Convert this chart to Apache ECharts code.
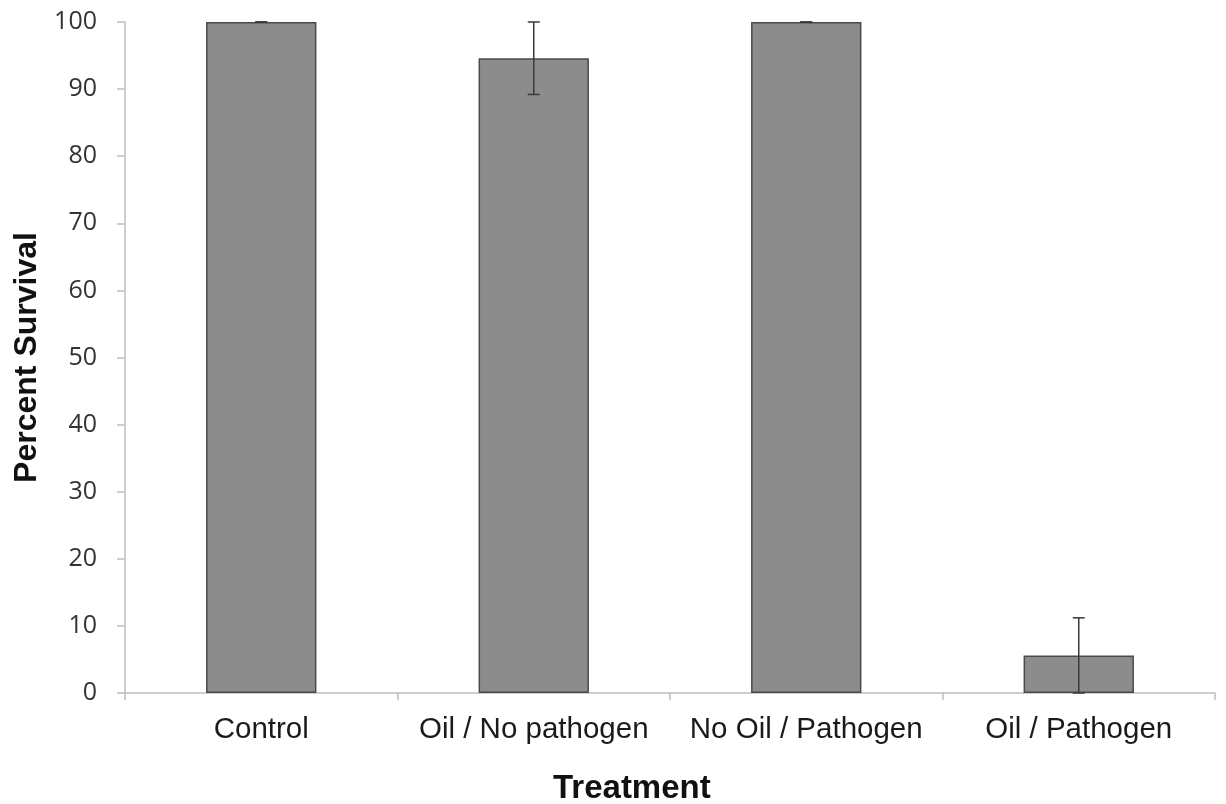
<!DOCTYPE html>
<html>
<head>
<meta charset="utf-8">
<script src="https://cdn.jsdelivr.net/npm/echarts@6/dist/echarts.min.js"></script>
<style>
html,body{margin:0;padding:0;background:#fff;}
#c{width:1226px;height:804px;}
</style>
</head>
<body>
<div id="c"></div>
<script>
const categories = ['Control', 'Oil / No pathogen', 'No Oil / Pathogen', 'Oil / Pathogen'];
const survival = [100, 94.6, 100, 5.6];
const errors = [0, 5.4, 0, 5.6];
const yTicks = [0, 10, 20, 30, 40, 50, 60, 70, 80, 90, 100];

const chart = echarts.init(document.getElementById('c'), null, {renderer: 'canvas'});
const errData = categories.map((c, i) => [i, survival[i] - errors[i], survival[i] + errors[i]]);

chart.setOption({
  animation: false,
  backgroundColor: '#ffffff',
  grid: {left: 125, right: 11, top: 22, bottom: 111, containLabel: false},
  xAxis: {
    type: 'category',
    data: categories,
    boundaryGap: true,
    axisLine: {lineStyle: {color: '#bfbfbf', width: 1.5}},
    axisTick: {show: true, inside: false, length: 7, alignWithLabel: false, lineStyle: {color: '#bfbfbf', width: 1.5}},
    axisLabel: {color: '#1a1a1a', fontSize: 29.5, fontFamily: 'Liberation Sans, Arial, sans-serif', margin: 22, interval: 0},
    splitLine: {show: false}
  },
  yAxis: {
    type: 'value',
    min: yTicks[0],
    max: yTicks[yTicks.length - 1],
    interval: 10,
    name: 'Percent Survival',
    nameLocation: 'middle',
    nameRotate: 90,
    nameGap: 75,
    nameTextStyle: {color: '#111', fontSize: 32, fontWeight: 'bold', fontFamily: 'Liberation Sans, Arial, sans-serif'},
    axisLine: {show: true, lineStyle: {color: '#bfbfbf', width: 1.5}},
    axisTick: {show: true, length: 8, lineStyle: {color: '#bfbfbf', width: 1.5}},
    axisLabel: {color: '#333', fontSize: 25, fontFamily: 'Open Sans, Noto Sans, sans-serif', margin: 28},
    splitLine: {show: false}
  },
  graphic: [{
    type: 'text',
    left: 553,
    top: 772,
    style: {text: 'Treatment', fill: '#111', font: 'bold 33px "Liberation Sans", Arial, sans-serif'}
  }],
  series: [
    {
      type: 'bar',
      data: survival,
      barWidth: '40.5%',
      itemStyle: {color: '#8c8c8c', borderColor: '#4a4a4a', borderWidth: 1.5}
    },
    {
      type: 'custom',
      data: errData,
      z: 10,
      renderItem: function (params, api) {
        const x = api.value(0);
        const lo = api.coord([x, api.value(1)]);
        const hi = api.coord([x, api.value(2)]);
        const cw = 6;
        const st = {stroke: '#3a3a3a', lineWidth: 1.5};
        return {
          type: 'group',
          children: [
            {type: 'line', shape: {x1: lo[0], y1: lo[1], x2: hi[0], y2: hi[1]}, style: st},
            {type: 'line', shape: {x1: hi[0] - cw, y1: hi[1], x2: hi[0] + cw, y2: hi[1]}, style: st},
            {type: 'line', shape: {x1: lo[0] - cw, y1: lo[1], x2: lo[0] + cw, y2: lo[1]}, style: st}
          ]
        };
      }
    }
  ]
});
</script>
</body>
</html>
